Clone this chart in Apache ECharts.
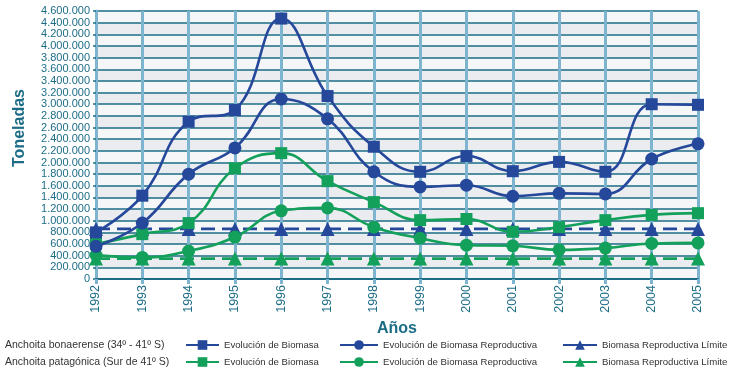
<!DOCTYPE html>
<html>
<head>
<meta charset="utf-8">
<script src="https://cdn.jsdelivr.net/npm/echarts@6/dist/echarts.min.js"></script>
<style>
  html, body { margin: 0; padding: 0; background: #ffffff; }
  #chart { width: 730px; height: 369px; }
</style>
</head>
<body>
<div id="chart"></div>
<script>
// Years on the horizontal axis
const years = ['1992','1993','1994','1995','1996','1997','1998','1999','2000','2001','2002','2003','2004','2005'];

// Anchoita bonaerense (34º - 41º S), tonnes
const bonBiomasa      = [800000, 1430000, 2700000, 2900000, 4470000, 3140000, 2270000, 1840000, 2110000, 1850000, 2010000, 1840000, 3000000, 2990000];
const bonReproductiva = [560000, 960000, 1800000, 2250000, 3090000, 2750000, 1840000, 1580000, 1610000, 1420000, 1470000, 1460000, 2060000, 2320000];
const bonLimite       = [860000, 860000, 860000, 860000, 860000, 860000, 860000, 860000, 860000, 860000, 860000, 860000, 860000, 860000];

// Anchoita patagónica (Sur de 41º S), tonnes
const patBiomasa      = [600000, 770000, 960000, 1900000, 2160000, 1680000, 1320000, 1010000, 1030000, 810000, 890000, 1010000, 1100000, 1130000];
const patReproductiva = [410000, 370000, 480000, 720000, 1170000, 1220000, 890000, 700000, 580000, 570000, 500000, 530000, 610000, 620000];
const patLimite       = [350000, 350000, 350000, 350000, 350000, 350000, 350000, 350000, 350000, 350000, 350000, 350000, 350000, 350000];

// Legend captions
const legendText = {
  bonBio: 'Evolución de Biomasa',
  bonRep: 'Evolución de Biomasa Reproductiva',
  bonLim: 'Biomasa Reproductiva Límite',
  patBio: 'Evolución de Biomasa',
  patRep: 'Evolución de Biomasa Reproductiva',
  patLim: 'Biomasa Reproductiva Límite'
};

const BLUE = '#25489b';
const GREEN = '#13a05b';
const TEAL = '#1c6c86';
const LIGHT = '#7db4d0';
const FONT = '"Liberation Sans", Arial, sans-serif';

function fmt(v) {
  return String(v).replace(/\B(?=(\d{3})+(?!\d))/g, '.');
}

function lineSeries(name, data, color, symbol, size, dashed) {
  return {
    name: name,
    type: 'line',
    data: data,
    smooth: dashed ? false : 0.45,
    symbol: symbol,
    symbolSize: size,
    itemStyle: { color: color },
    lineStyle: { color: color, width: 2.6, type: dashed ? [14, 7] : 'solid' },
    emphasis: { disabled: true },
    z: 3
  };
}

// one legend entry per block so that rows and columns line up
function legendItem(left, top, name, w) {
  return {
    orient: 'horizontal',
    left: left,
    top: top,
    padding: 0,
    itemWidth: w,
    itemHeight: 12,
    selectedMode: false,
    data: [name],
    formatter: n => legendText[n],
    itemStyle: {},
    lineStyle: { type: 'solid' },
    textStyle: { fontFamily: FONT, fontSize: 9.6, color: '#333333', overflow: 'none' }
  };
}

const ROW1 = 340, ROW2 = 357;

const chart = echarts.init(document.getElementById('chart'));
chart.setOption({
  animation: false,
  backgroundColor: '#ffffff',
  grid: {
    left: 96, right: 32, top: 11, bottom: 90,
    show: true, backgroundColor: '#eef0f2', borderWidth: 0
  },
  xAxis: {
    type: 'category',
    boundaryGap: false,
    data: years,
    name: 'Años',
    nameLocation: 'middle',
    nameGap: 39,
    nameTextStyle: { fontFamily: FONT, fontSize: 16, fontWeight: 'bold', color: TEAL },
    axisLine: { lineStyle: { color: TEAL, width: 2 } },
    axisTick: { show: true, length: 5, lineStyle: { color: LIGHT, width: 3 } },
    splitLine: { show: true, lineStyle: { color: LIGHT, width: 3 } },
    axisLabel: { rotate: 90, fontFamily: FONT, fontSize: 12.5, color: TEAL, margin: 6 }
  },
  yAxis: {
    type: 'value',
    min: 0,
    max: 4600000,
    interval: 200000,
    name: 'Toneladas',
    nameLocation: 'middle',
    nameGap: 68,
    nameTextStyle: { fontFamily: FONT, fontSize: 16, fontWeight: 'bold', color: TEAL, padding: [0, 0, 0, 34] },
    axisLine: { show: true, lineStyle: { color: LIGHT, width: 3 } },
    axisTick: { show: true, length: 3, lineStyle: { color: TEAL, width: 1.5 } },
    splitLine: { show: true, lineStyle: { color: TEAL, width: 1.5 } },
    splitArea: { show: true, areaStyle: { color: ['#f5f6f8', '#eaecef'] } },
    axisLabel: { fontFamily: FONT, fontSize: 11, color: TEAL, margin: 6, formatter: fmt }
  },
  legend: [
    legendItem(185, ROW1, 'bonBio', 33),
    legendItem(185, ROW2, 'patBio', 33),
    legendItem(339, ROW1, 'bonRep', 38),
    legendItem(339, ROW2, 'patRep', 38),
    legendItem(562, ROW1, 'bonLim', 34),
    legendItem(562, ROW2, 'patLim', 34)
  ],
  graphic: [
    { type: 'text', left: 5, top: ROW1, style: { text: 'Anchoita bonaerense (34º - 41º S)', font: '10.5px ' + FONT, fill: '#333333' } },
    { type: 'text', left: 5, top: ROW2, style: { text: 'Anchoita patagónica (Sur de 41º S)', font: '10.5px ' + FONT, fill: '#333333' } }
  ],
  series: [
    lineSeries('bonLim', bonLimite, BLUE, 'triangle', 14, true),
    lineSeries('patLim', patLimite, GREEN, 'triangle', 14, true),
    lineSeries('patRep', patReproductiva, GREEN, 'circle', 13, false),
    lineSeries('patBio', patBiomasa, GREEN, 'rect', 12, false),
    lineSeries('bonRep', bonReproductiva, BLUE, 'circle', 13, false),
    lineSeries('bonBio', bonBiomasa, BLUE, 'rect', 12, false)
  ]
});
</script>
</body>
</html>
